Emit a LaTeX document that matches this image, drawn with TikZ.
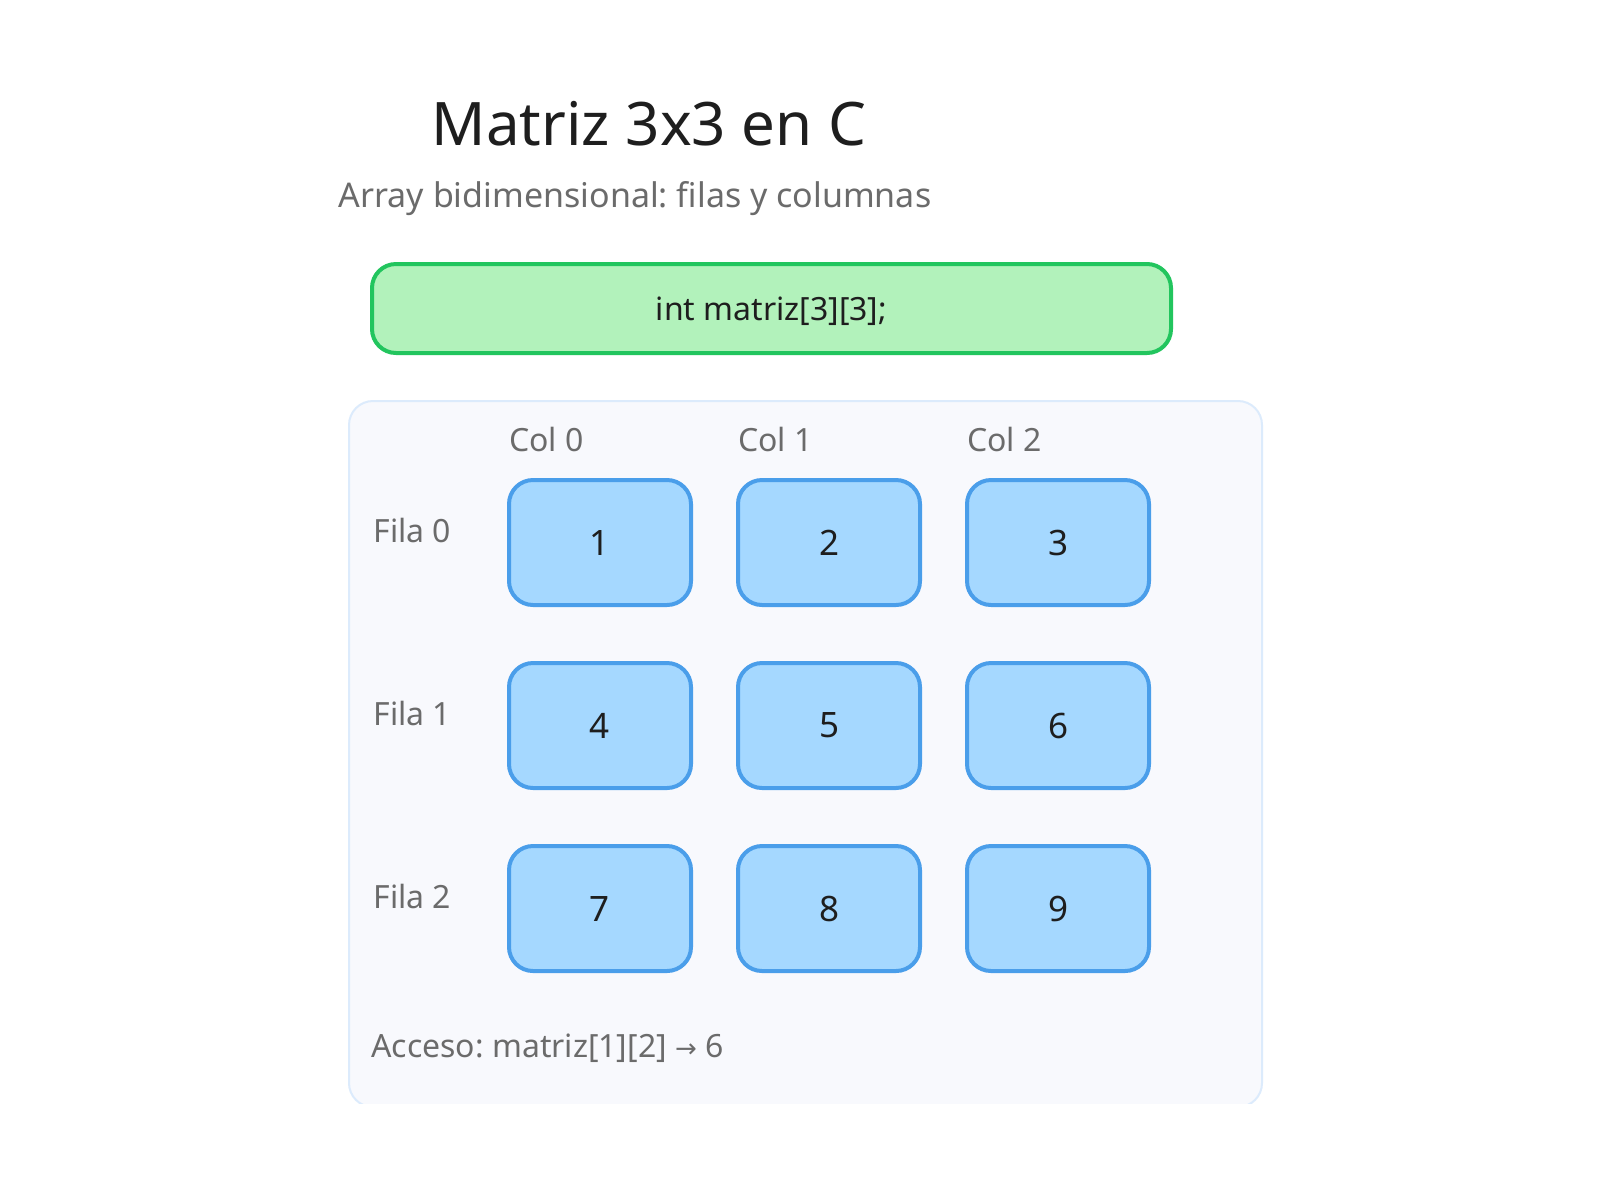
\documentclass[tikz,border=0pt]{standalone}
\usepackage{fontspec}
\setmainfont{Noto Sans}
\newfontfamily\symfont{DejaVu Sans}
\frenchspacing
\definecolor{titlec}{HTML}{1E1E1E}
\definecolor{grayc}{HTML}{6B6B6B}
\definecolor{greenfill}{HTML}{B2F2BB}
\definecolor{greenline}{HTML}{22C55E}
\definecolor{bluefill}{HTML}{A5D8FF}
\definecolor{blueline}{HTML}{4A9EEA}
\definecolor{contfill}{HTML}{F8F9FD}
\definecolor{contline}{HTML}{DCEBFC}
\tikzset{
  cellbox/.style={draw=blueline, fill=bluefill, line width=2pt, rounded corners=12pt,
    minimum width=91pt, minimum height=62.5pt, inner sep=0pt, text=titlec, font=\fontsize{17.5}{20}\selectfont},
  lbl/.style={text=grayc, inner sep=0pt, font=\fontsize{16}{19}\selectfont},
  codebox/.style={draw=greenline, fill=greenfill, line width=2pt, rounded corners=12pt,
    minimum width=399.5pt, minimum height=44.5pt, inner sep=0pt},
}
\begin{document}
\begin{tikzpicture}[x=0.5pt,y=-0.5pt]
\useasboundingbox[fill=white] (0,0) rectangle (1600,1200);
% title
\node[anchor=base, inner sep=0pt, text=titlec, font=\fontsize{30}{36}\selectfont] (title) at (649,145) {Matriz 3x3 en C};
\node[anchor=base, inner sep=0pt, text=grayc, font=\fontsize{17}{20}\selectfont] (subtitle) at (635,207) {Array bidimensional: filas y columnas};
% code box
\node[codebox] (code) at (771.5,308.5) {};
\node[anchor=base, inner sep=0pt, text=titlec, font=\fontsize{16}{19}\selectfont] (codetxt) at (771.5,320) {int matriz[3][3];};
% container (clipped at bottom)
\begin{scope}
\clip (0,0) rectangle (1600,1103);
\draw[draw=contline, fill=contfill, line width=1pt, rounded corners=12pt] (349,401) rectangle (1262,1107);
\end{scope}
% column labels
\node[lbl, anchor=base west] (col0) at (509,451) {Col 0};
\node[lbl, anchor=base west] (col1) at (738,451) {Col 1};
\node[lbl, anchor=base west] (col2) at (967,451) {Col 2};
% row labels
\node[lbl, anchor=base west] (fila0) at (373,542) {Fila 0};
\node[lbl, anchor=base west] (fila1) at (373,725) {Fila 1};
\node[lbl, anchor=base west] (fila2) at (373,908) {Fila 2};
% cells
\node[cellbox] (c00) at (600,542.5) {1};
\node[cellbox] (c01) at (829,542.5) {2};
\node[cellbox] (c02) at (1058,542.5) {3};
\node[cellbox] (c10) at (600,725.5) {4};
\node[cellbox] (c11) at (829,725.5) {5};
\node[cellbox] (c12) at (1058,725.5) {6};
\node[cellbox] (c20) at (600,908.5) {7};
\node[cellbox] (c21) at (829,908.5) {8};
\node[cellbox] (c22) at (1058,908.5) {9};
% access note
\node[lbl, anchor=base west] (acceso) at (371,1057) {Acceso: matriz[1][2] {\symfont\fontsize{13}{16}\selectfont →} 6};
\end{tikzpicture}
\end{document}
